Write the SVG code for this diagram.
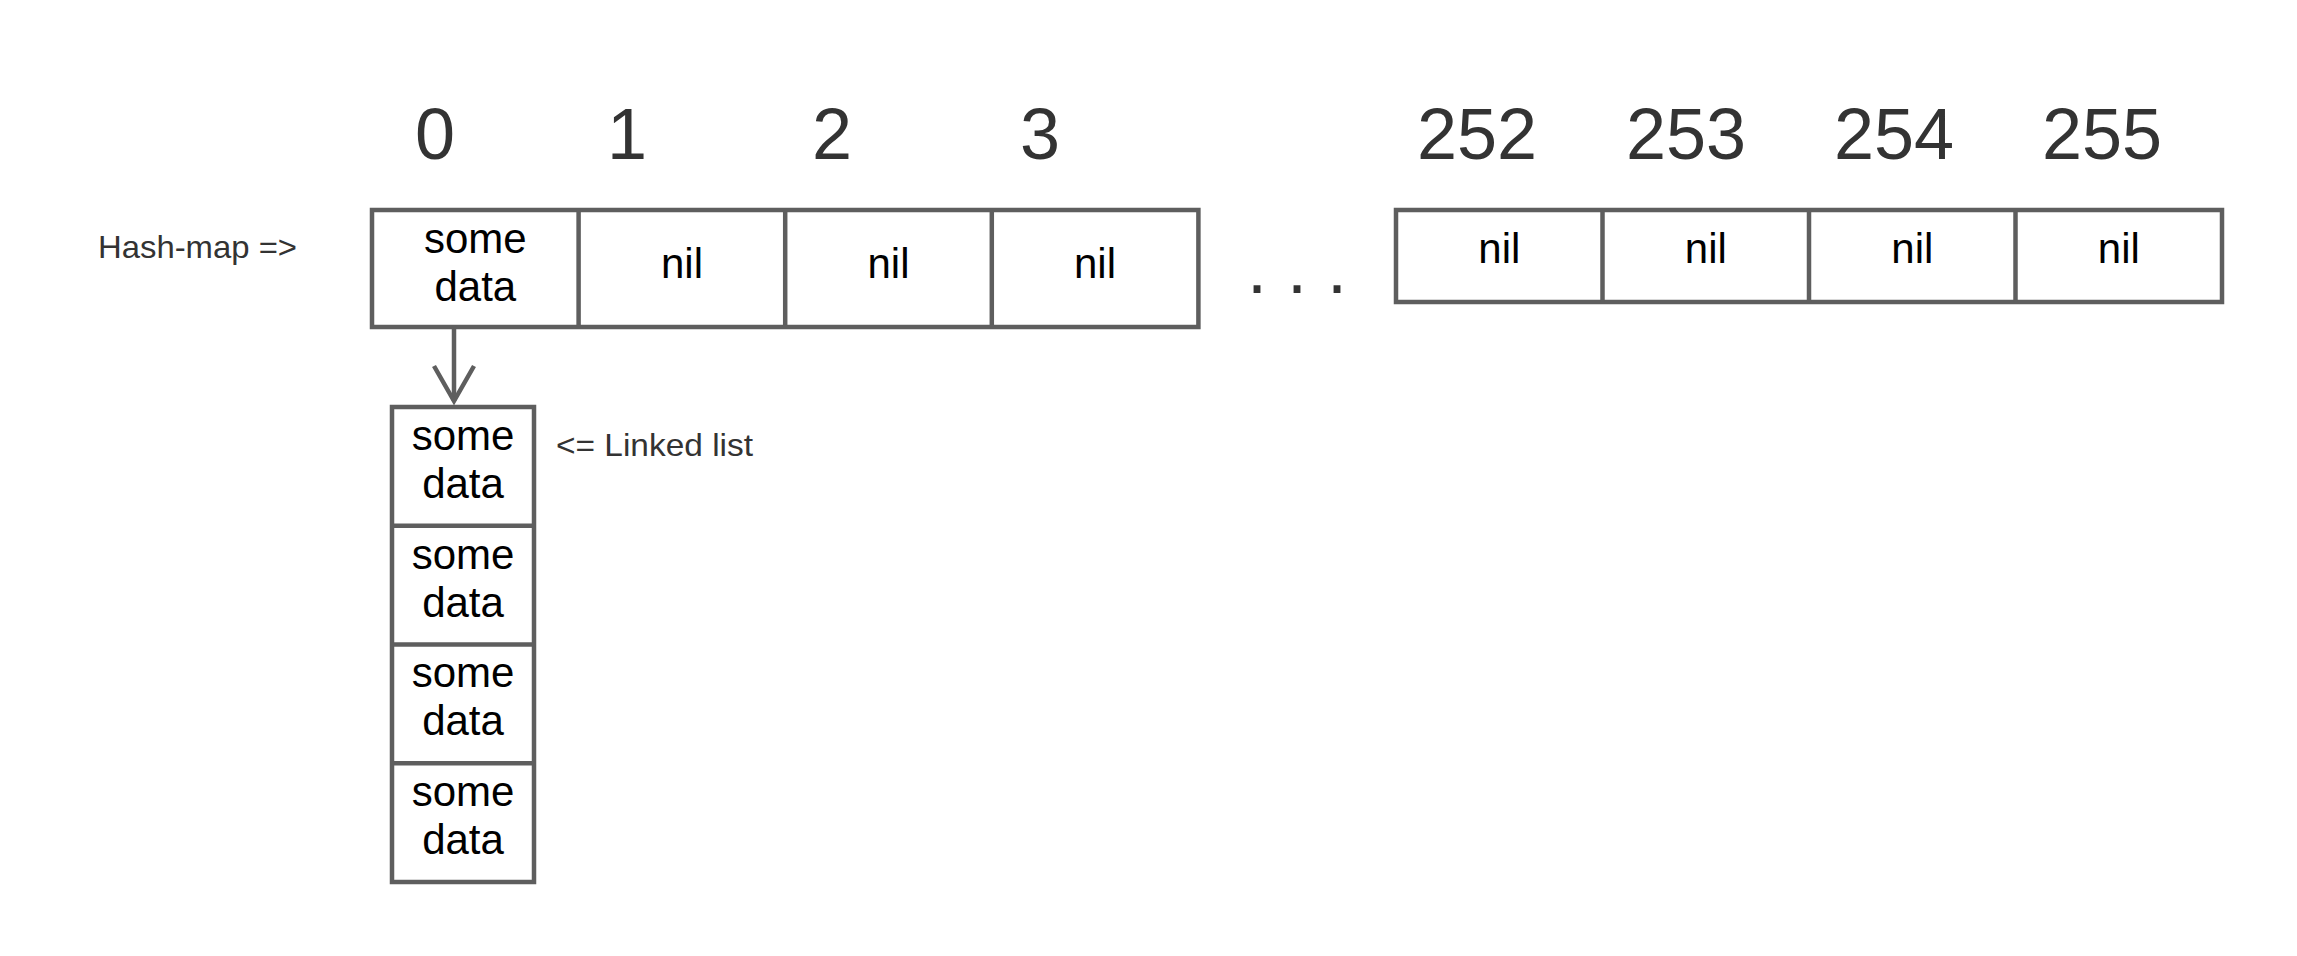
<svg xmlns="http://www.w3.org/2000/svg" width="2297" height="956" viewBox="0 0 2297 956">
  <defs>
    <style>
      .cell { fill: #ffffff; stroke: #5e5e5e; stroke-width: 4.5; }
      .div { stroke: #5e5e5e; stroke-width: 4.5; fill: none; }
      .idx { font-family: "Liberation Sans", Arial, sans-serif; font-size: 72px; fill: #333333; text-anchor: middle; }
      .val { font-family: "Liberation Sans", Arial, sans-serif; font-size: 42px; fill: #000000; text-anchor: middle; }
      .lbl { font-family: "Liberation Sans", Arial, sans-serif; font-size: 31.5px; fill: #333333; }
      .conn { stroke: #5e5e5e; stroke-width: 4.5; fill: none; }
    </style>
    <marker id="open-arrow" markerUnits="userSpaceOnUse" markerWidth="50" markerHeight="50" viewBox="-40 -25 45 50" refX="0" refY="0" orient="auto">
      <path d="M -35 -20 L 0 0 L -35 20" fill="none" stroke="#5e5e5e" stroke-width="4.5"/>
    </marker>
  </defs>
  <rect width="2297" height="956" fill="#ffffff"/>

  <g id="labels">
    <text class="lbl" x="98" y="258" textLength="199" lengthAdjust="spacingAndGlyphs">Hash-map =&gt;</text>
    <text class="lbl" x="556" y="456" textLength="197" lengthAdjust="spacingAndGlyphs">&lt;= Linked list</text>
    <text class="idx" x="1297" y="293">. . .</text>
  </g>

  <g id="indices">
    <text class="idx" x="435" y="159">0</text>
    <text class="idx" x="627" y="159">1</text>
    <text class="idx" x="832" y="159">2</text>
    <text class="idx" x="1040" y="159">3</text>
    <text class="idx" x="1477" y="159">252</text>
    <text class="idx" x="1686" y="159">253</text>
    <text class="idx" x="1894" y="159">254</text>
    <text class="idx" x="2102" y="159">255</text>
  </g>

  <g id="hashmap-left">
    <rect class="cell" x="372" y="210" width="826.4" height="117"/>
    <line class="div" x1="578.6" y1="210" x2="578.6" y2="327"/>
    <line class="div" x1="785.2" y1="210" x2="785.2" y2="327"/>
    <line class="div" x1="991.8" y1="210" x2="991.8" y2="327"/>
    <text class="val" x="475.3" y="253">some</text>
    <text class="val" x="475.3" y="301">data</text>
    <text class="val" x="682" y="278">nil</text>
    <text class="val" x="888.5" y="278">nil</text>
    <text class="val" x="1095" y="278">nil</text>
  </g>

  <g id="hashmap-right">
    <rect class="cell" x="1396" y="210" width="826" height="92"/>
    <line class="div" x1="1602.5" y1="210" x2="1602.5" y2="302"/>
    <line class="div" x1="1809" y1="210" x2="1809" y2="302"/>
    <line class="div" x1="2015.5" y1="210" x2="2015.5" y2="302"/>
    <text class="val" x="1499.3" y="263">nil</text>
    <text class="val" x="1705.8" y="263">nil</text>
    <text class="val" x="1912.3" y="263">nil</text>
    <text class="val" x="2118.8" y="263">nil</text>
  </g>

  <g id="linked-list">
    <rect class="cell" x="392" y="407" width="142" height="475"/>
    <line class="div" x1="392" y1="525.75" x2="534" y2="525.75"/>
    <line class="div" x1="392" y1="644.5" x2="534" y2="644.5"/>
    <line class="div" x1="392" y1="763.25" x2="534" y2="763.25"/>
    <text class="val" x="463" y="450">some</text>
    <text class="val" x="463" y="498">data</text>
    <text class="val" x="463" y="568.6">some</text>
    <text class="val" x="463" y="616.6">data</text>
    <text class="val" x="463" y="687.4">some</text>
    <text class="val" x="463" y="735.4">data</text>
    <text class="val" x="463" y="806.1">some</text>
    <text class="val" x="463" y="854.1">data</text>
  </g>

  <g id="connectors">
    <line class="conn" x1="454" y1="329" x2="454" y2="401" marker-end="url(#open-arrow)"/>
  </g>
</svg>
